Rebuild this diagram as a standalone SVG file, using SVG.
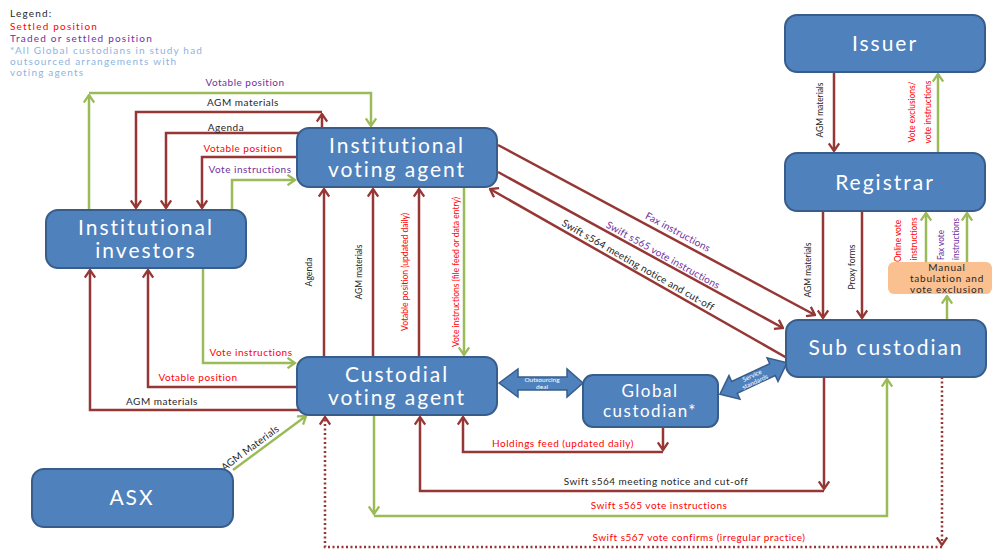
<svg xmlns="http://www.w3.org/2000/svg" width="994" height="550" viewBox="0 0 994 550">
<defs>
<style>
.n{fill:#4F81BD;stroke:#385D8A;stroke-width:2}
.nt{font-family:Lato,"Liberation Sans",sans-serif;font-size:21px;fill:#fff;text-anchor:middle;letter-spacing:2px}
.r{stroke:#953735;stroke-width:2.5;fill:none}
.g{stroke:#9BBB59;stroke-width:2.5;fill:none}
.dot{stroke-dasharray:2 2.5}
.ar{marker-end:url(#mr)}
.ag{marker-end:url(#mg)}
.l{font-family:Lato,"Liberation Sans",sans-serif;font-size:10px;text-anchor:middle;letter-spacing:0.5px}
.d{font-family:Lato,"Liberation Sans",sans-serif;font-size:10px;text-anchor:middle;letter-spacing:0.2px}
.v{font-family:Lato,"Liberation Sans",sans-serif;font-size:10px;text-anchor:middle}
.red{fill:#FF0000}
.pur{fill:#7030A0}
.blk{fill:#262626}
.ba{fill:#4F81BD;stroke:#385D8A;stroke-width:1.5}
.bt{font-family:Lato,"Liberation Sans",sans-serif;font-size:6.5px;fill:#fff;text-anchor:middle}
.lg{font-family:Lato,"Liberation Sans",sans-serif;font-size:10px;letter-spacing:1.2px}
.mt{font-family:Lato,"Liberation Sans",sans-serif;font-size:10px;letter-spacing:0.8px;fill:#262626;text-anchor:middle}
</style>
<marker id="mr" viewBox="0 0 12 12" refX="10.5" refY="6" markerWidth="12" markerHeight="12" markerUnits="userSpaceOnUse" orient="auto"><path d="M3,0.8 L10.5,6 L3,11.2" fill="none" stroke="#953735" stroke-width="2.3"/></marker>
<marker id="mg" viewBox="0 0 12 12" refX="10.5" refY="6" markerWidth="12" markerHeight="12" markerUnits="userSpaceOnUse" orient="auto"><path d="M3,0.8 L10.5,6 L3,11.2" fill="none" stroke="#9BBB59" stroke-width="2.3"/></marker>
</defs>
<rect x="0" y="0" width="994" height="550" fill="#fff"/>

<g id="legend">
<text class="lg blk" x="10" y="17">Legend:</text>
<text class="lg red" x="10" y="29.5">Settled position</text>
<text class="lg pur" x="10" y="41.5">Traded or settled position</text>
<text class="lg" fill="#8DB3E2" x="10" y="53.5">*All Global custodians in study had</text>
<text class="lg" fill="#8DB3E2" x="10" y="64.5">outsourced arrangements with</text>
<text class="lg" fill="#8DB3E2" x="10" y="75.5">voting agents</text>
</g>

<g id="connectors">
<path class="g ag" d="M89,210 V95"/>
<path class="g ag" d="M89,93 H371 V126"/>
<path class="r ar" d="M322,128 V114"/>
<path class="r ar" d="M322,112 H136 V208"/>
<path class="r ar" d="M299,133 H166 V208"/>
<path class="r ar" d="M298,157 H202 V208"/>
<path class="g ag" d="M232,210 V180 H295"/>
<text class="l pur" x="245" y="86">Votable position</text>
<text class="l blk" x="243" y="106">AGM materials</text>
<text class="l blk" x="226" y="131">Agenda</text>
<text class="l red" x="243" y="152">Votable position</text>
<text class="l pur" x="250" y="173">Vote instructions</text>

<path class="g ag" d="M203,268 V363 H295"/>
<path class="r ar" d="M298,387 H148 V270"/>
<path class="r ar" d="M299,410 H90 V270"/>
<text class="l red" x="251" y="356">Vote instructions</text>
<text class="l red" x="198" y="381">Votable position</text>
<text class="l blk" x="162" y="405">AGM materials</text>

<path class="r ar" d="M324,357 V189"/>
<path class="r ar" d="M373,357 V189"/>
<path class="r ar" d="M419,357 V189"/>
<path class="g ag" d="M464,187 V355"/>
<text class="v blk" transform="translate(308,272) rotate(-90)" dy="0.35em" textLength="29" lengthAdjust="spacingAndGlyphs">Agenda</text>
<text class="v blk" transform="translate(358,272) rotate(-90)" dy="0.35em" textLength="55" lengthAdjust="spacingAndGlyphs">AGM materials</text>
<text class="v red" transform="translate(404,272) rotate(-90)" dy="0.35em" textLength="118" lengthAdjust="spacingAndGlyphs">Votable position (updated daily)</text>
<text class="v red" transform="translate(455,272) rotate(-90)" dy="0.35em" textLength="150" lengthAdjust="spacingAndGlyphs">Vote instructions (file feed or data entry)</text>

<path class="r ar" d="M498,145 L815,315"/>
<path class="r ar" d="M498,172 L783,328"/>
<path class="r ar" d="M787,358 L490,189"/>
<text class="d pur" transform="translate(678,232) rotate(28.3)" dy="0.35em">Fax instructions</text>
<text class="d pur" transform="translate(663,255) rotate(29)" dy="0.35em">Swift s565 vote instructions</text>
<text class="d blk" transform="translate(638,265) rotate(29.7)" dy="0.35em">Swift s564 meeting notice and cut-off</text>

<path class="r ar" d="M834,72 V151"/>
<path class="g ag" d="M938,153 V74"/>
<path class="r ar" d="M823,211 V318"/>
<path class="r ar" d="M862,211 V318"/>
<path class="g ag" d="M926,262 V213"/>
<path class="g ag" d="M967,262 V213"/>
<path class="g ag" d="M947,320 V296"/>
<text class="v blk" transform="translate(819,110) rotate(-90)" dy="0.35em" textLength="55" lengthAdjust="spacingAndGlyphs">AGM materials</text>
<text class="v red" transform="translate(911,112) rotate(-90)" dy="0.35em" textLength="61" lengthAdjust="spacingAndGlyphs">Vote exclusions/</text>
<text class="v red" transform="translate(927,112) rotate(-90)" dy="0.35em" textLength="63" lengthAdjust="spacingAndGlyphs">vote  instructions</text>
<text class="v blk" transform="translate(807,270) rotate(-90)" dy="0.35em" textLength="55" lengthAdjust="spacingAndGlyphs">AGM materials</text>
<text class="v blk" transform="translate(851,267) rotate(-90)" dy="0.35em" textLength="45" lengthAdjust="spacingAndGlyphs">Proxy forms</text>
<text class="v red" transform="translate(897,241) rotate(-90)" dy="0.35em" textLength="42" lengthAdjust="spacingAndGlyphs">Online vote</text>
<text class="v red" transform="translate(913,239) rotate(-90)" dy="0.35em" textLength="43" lengthAdjust="spacingAndGlyphs">instructions</text>
<text class="v pur" transform="translate(940,245) rotate(-90)" dy="0.35em" textLength="30" lengthAdjust="spacingAndGlyphs">Fax vote</text>
<text class="v pur" transform="translate(955,239) rotate(-90)" dy="0.35em" textLength="42" lengthAdjust="spacingAndGlyphs">instructions</text>

<path class="r ar" d="M663,427 V450"/>
<path class="r ar" d="M663,452 H463 V417"/>
<path class="r ar" d="M824,377 V489"/>
<path class="r ar" d="M824,491 H420 V417"/>
<path class="g ag" d="M374,415 V514"/>
<path class="g ag" d="M374,516 H887 V379"/>
<path class="r dot ar" d="M942,377 V545"/>
<path class="r dot ar" d="M942,547 H325 V417"/>
<text class="l red" x="563" y="447">Holdings feed (updated daily)</text>
<text class="l blk" x="656" y="485">Swift s564 meeting notice and cut-off</text>
<text class="l red" x="659" y="509">Swift s565 vote instructions</text>
<text class="l red" x="699" y="541">Swift s567 vote confirms (irregular practice)</text>

<path class="g ag" d="M233,470 L306,416"/>
<text class="d blk" transform="translate(250,448) rotate(-36.5)" dy="0.35em">AGM Materials</text>

<polygon class="ba" points="499,383 518,369 518,377 567,377 567,369 583,383 567,397 567,390 518,390 518,397"/>
<text class="bt" x="542" y="381.5">Outsourcing</text>
<text class="bt" x="542" y="389">deal</text>
<g transform="translate(753.5,378.5) rotate(-25)">
<polygon class="ba" points="-37,0 -21,-13 -21,-6.5 21,-6.5 21,-13 37,0 21,13 21,6.5 -21,6.5 -21,13"/>
<text class="bt" x="0" y="-1">Service</text>
<text class="bt" x="0" y="6">standards</text>
</g>
</g>

<g id="issuer"><rect class="n" x="785" y="15" width="200" height="57" rx="12"/><text class="nt" x="885" y="51">Issuer</text></g>
<g id="registrar"><rect class="n" x="785" y="153" width="200" height="58" rx="12"/><text class="nt" x="885" y="190">Registrar</text></g>
<g id="institutional-voting-agent"><rect class="n" x="297" y="128" width="200" height="59" rx="12"/><text class="nt" x="397" y="153">Institutional</text><text class="nt" x="397" y="177">voting agent</text></g>
<g id="institutional-investors"><rect class="n" x="46" y="210" width="200" height="58" rx="12"/><text class="nt" x="146" y="235">Institutional</text><text class="nt" x="146" y="258">investors</text></g>
<g id="custodial-voting-agent"><rect class="n" x="297" y="357" width="200" height="58" rx="12"/><text class="nt" x="397" y="382">Custodial</text><text class="nt" x="397" y="405">voting agent</text></g>
<g id="global-custodian"><rect class="n" x="583" y="375" width="135" height="52" rx="10"/><text class="nt" style="font-size:17px;letter-spacing:1.5px" x="650" y="397">Global</text><text class="nt" style="font-size:17px;letter-spacing:1.5px" x="650" y="417">custodian*</text></g>
<g id="sub-custodian"><rect class="n" x="786" y="320" width="200" height="57" rx="12"/><text class="nt" x="886" y="355">Sub custodian</text></g>
<g id="asx"><rect class="n" x="32" y="469" width="201" height="58" rx="12"/><text class="nt" x="132" y="505">ASX</text></g>
<g id="manual-tabulation"><rect x="888" y="262" width="104" height="32" rx="6" fill="#FAC090"/>
<text class="mt" x="947" y="271">Manual</text>
<text class="mt" x="947" y="282">tabulation and</text>
<text class="mt" x="947" y="293">vote exclusion</text></g>
</svg>
